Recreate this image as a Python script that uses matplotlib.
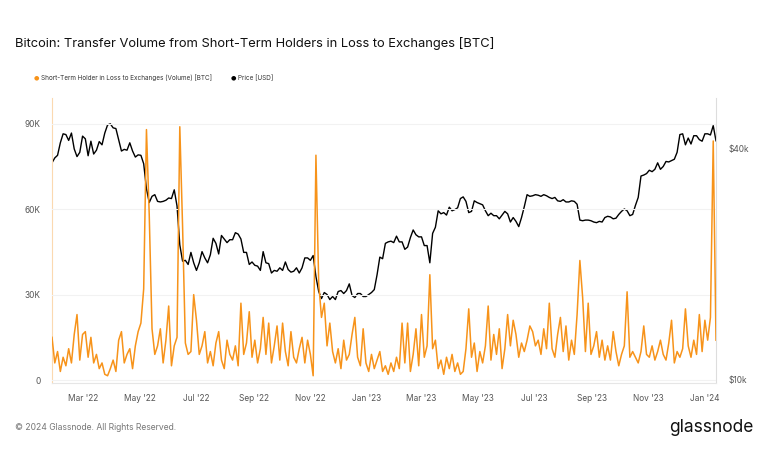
import numpy as np
import pandas as pd
import matplotlib
matplotlib.use('Agg')
import matplotlib.pyplot as plt
import matplotlib.dates as mdates
from matplotlib.ticker import FixedLocator, FixedFormatter

# 3-day samples, starting late Jan 2022
start_date = '2022-01-26'

# Short-Term Holder in Loss to Exchanges volume, thousands of BTC
volume_k = [
    15, 6, 10, 3, 8, 5, 11, 6, 16, 23,
    7, 16, 17, 8, 15, 6, 9, 4, 6, 2,
    1.5, 4, 7, 3, 14, 17, 6, 9, 11, 4,
    12, 17, 20, 32, 88, 58, 18, 9, 12, 18,
    6, 14, 26, 5, 12, 15, 89, 54, 13, 9,
    10, 30, 21, 9, 12, 17, 6, 10, 5, 13,
    17, 7, 4, 14, 9, 7, 12, 5, 27, 9,
    13, 24, 8, 14, 6, 11, 22, 9, 20, 6,
    12, 19, 7, 20, 10, 5, 17, 8, 6, 11,
    15, 6, 14, 9, 1.5, 79, 34, 22, 27, 12,
    20, 10, 6, 11, 4, 14, 7, 9, 16, 22,
    8, 5, 18, 6, 3, 9, 4, 7, 10, 3,
    5, 2, 6, 3, 8, 4, 20, 6, 20, 3,
    9, 18, 5, 23, 8, 12, 37, 11, 14, 4,
    7, 2, 8, 4, 9, 3, 6, 2, 3, 11,
    25, 8, 13, 3, 10, 6, 12, 26, 7, 16,
    9, 18, 4, 11, 23, 12, 21, 16, 8, 13,
    10, 14, 19, 17, 12, 14, 9, 18, 11, 27,
    11, 8, 16, 22, 10, 19, 7, 14, 9, 23,
    42, 29, 10, 27, 9, 12, 17, 8, 14, 7,
    12, 7, 17, 10, 5, 9, 12, 31, 8, 10,
    8, 6, 10, 19, 9, 8, 12, 7, 10, 14,
    9, 7, 13, 21, 6, 10, 8, 11, 25, 12,
    8, 14, 9, 23, 10, 21, 14, 22, 84, 14,
]

# BTC price, thousands of USD
price_k = [
    36.8, 37.9, 38.5, 41.5, 43.8, 43.6, 42.1, 44.0, 40.0, 38.2,
    39.2, 43.2, 42.5, 38.4, 41.9, 38.8, 39.7, 41.8, 41.0, 44.0,
    46.2, 46.5, 45.4, 45.2, 42.3, 39.5, 39.9, 39.7, 41.5, 39.5,
    38.1, 38.6, 38.5, 36.6, 31.5, 29.0, 30.1, 30.4, 29.2, 29.1,
    29.2, 29.4, 29.8, 29.7, 31.3, 28.4, 22.5, 20.4, 20.5, 20.0,
    21.5, 20.2, 19.3, 20.2, 21.6, 20.8, 20.2, 21.2, 23.4, 22.7,
    21.3, 23.8, 23.3, 22.8, 23.2, 23.2, 24.2, 24.0, 23.3, 21.5,
    21.5, 20.0, 20.3, 19.9, 19.8, 19.3, 21.6, 20.2, 20.1, 19.0,
    19.3, 19.2, 19.6, 19.3, 20.3, 19.4, 19.1, 19.2, 19.6, 19.0,
    19.6, 20.8, 20.8, 20.5, 21.1, 18.6, 17.0, 16.3, 16.9, 16.7,
    16.2, 16.5, 16.2, 17.0, 17.1, 16.8, 17.1, 17.8, 16.6, 16.4,
    16.8, 16.8, 16.5, 16.5, 16.7, 16.9, 17.2, 18.8, 20.9, 20.7,
    22.7, 22.9, 23.0, 22.8, 23.7, 22.9, 22.9, 21.9, 22.2, 23.5,
    24.6, 23.9, 23.6, 23.6, 22.4, 22.4, 20.2, 24.1, 25.0, 27.6,
    27.1, 27.3, 26.9, 28.2, 27.6, 27.8, 28.1, 29.7, 30.0, 29.2,
    27.3, 27.5, 29.3, 29.0, 28.8, 28.6, 27.6, 26.8, 27.2, 26.8,
    26.8, 26.3, 26.9, 27.5, 27.1, 25.8, 26.5, 25.9, 25.1, 26.5,
    28.3, 30.4, 30.1, 30.2, 30.4, 30.3, 30.1, 30.4, 30.2, 29.9,
    29.7, 29.9, 29.3, 29.2, 29.5, 29.1, 29.1, 29.3, 29.2, 28.7,
    26.1, 26.0, 26.1, 26.1, 26.0, 25.8, 25.7, 25.9, 25.8, 26.5,
    26.7, 26.6, 26.3, 26.4, 27.0, 27.5, 27.9, 27.6, 26.8, 27.0,
    28.5, 29.9, 34.0, 34.2, 34.5, 35.2, 34.9, 35.4, 36.8, 35.4,
    36.0, 37.1, 37.0, 37.3, 37.6, 39.2, 43.6, 43.8, 41.0, 42.7,
    41.2, 43.3, 43.3, 42.3, 41.9, 43.8, 43.8, 43.5, 46.0, 42.0,
]

vol_ticks = [0, 30, 60, 90]
vol_labels = ['0', '30K', '60K', '90K']
price_ticks = [10, 40]
price_labels = ['$10k', '$40k']

dates = pd.date_range(start_date, periods=len(volume_k), freq='3D')

orange = '#f7931a'
grey_txt = '#555555'

plt.rcParams['font.family'] = ['Inter', 'DejaVu Sans']

fig = plt.figure(figsize=(7.68, 4.63), dpi=100)
ax = fig.add_axes([52 / 768, 80 / 463, 664 / 768, 285 / 463])
ax2 = ax.twinx()

ax.plot(dates, volume_k, color=orange, lw=1.1)
ax2.plot(dates, price_k, color='black', lw=1.0)

# volume above price
ax.set_zorder(ax2.get_zorder() + 1)
ax.patch.set_visible(False)

ax.set_xlim(dates[0], dates[-1])
ax.set_ylim(-1.05, 99.1)
ax2.set_yscale('log')
ax2.set_ylim(9.82, 54.3)

ax.yaxis.set_major_locator(FixedLocator(vol_ticks))
ax.yaxis.set_major_formatter(FixedFormatter(vol_labels))
ax2.yaxis.set_major_locator(FixedLocator(price_ticks))
ax2.yaxis.set_major_formatter(FixedFormatter(price_labels))
ax2.yaxis.set_minor_locator(FixedLocator([]))

ax.xaxis.set_major_locator(mdates.MonthLocator(bymonth=[1, 3, 5, 7, 9, 11]))
ax.xaxis.set_major_formatter(mdates.DateFormatter("%b '%y"))

ax.grid(axis='y', color='#f2f2f2', lw=0.8)
ax2.grid(False)

for a in (ax, ax2):
    for s in a.spines.values():
        s.set_visible(False)
ax2.spines['left'].set_visible(True)
ax2.spines['left'].set_color('#fbd9b0')
ax2.spines['right'].set_visible(True)
ax2.spines['right'].set_color('#dddddd')
ax2.spines['bottom'].set_visible(True)
ax2.spines['bottom'].set_color('#e6e6e6')

ax.tick_params(axis='both', length=0, labelsize=6, labelcolor=grey_txt)
ax.tick_params(axis='y', pad=8)
ax.tick_params(axis='x', pad=8)
ax2.tick_params(axis='y', length=0, labelsize=6, labelcolor=grey_txt, pad=9)

fig.text(15 / 768, 1 - 44 / 463,
         'Bitcoin: Transfer Volume from Short-Term Holders in Loss to Exchanges [BTC]',
         fontsize=9.3, color='#111111', va='center', ha='left')

fig.text(36 / 768, 1 - 78 / 463, '●', color=orange, fontsize=4.5,
         ha='center', va='center', family='DejaVu Sans')
fig.text(41 / 768, 1 - 78 / 463, 'Short-Term Holder in Loss to Exchanges (Volume) [BTC]',
         fontsize=4.6, color='#333333', ha='left', va='center')
fig.text(233 / 768, 1 - 78 / 463, '●', color='black', fontsize=4.5,
         ha='center', va='center', family='DejaVu Sans')
fig.text(238 / 768, 1 - 78 / 463, 'Price [USD]',
         fontsize=4.6, color='#333333', ha='left', va='center')

fig.text(15 / 768, 1 - 428 / 463, '© 2024 Glassnode. All Rights Reserved.',
         fontsize=6.2, color='#777777', ha='left', va='center')
fig.text(753 / 768, 1 - 428 / 463, 'glassnode',
         fontsize=12.5, color='#111111', ha='right', va='center')

fig.savefig('out.png', dpi=100)
